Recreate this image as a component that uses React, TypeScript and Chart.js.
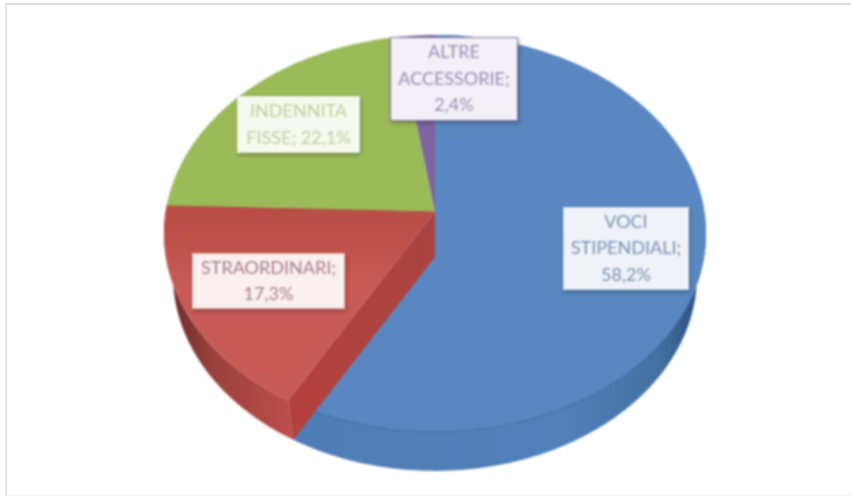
import React, { useEffect, useRef } from "react";
import { Chart, registerables } from "chart.js";

Chart.register(...registerables);

const categories = ["VOCI STIPENDIALI", "STRAORDINARI", "INDENNITA FISSE", "ALTRE ACCESSORIE"];
const values = [58.2, 17.3, 22.1, 2.4];
const labelLines = [
  ["VOCI", "STIPENDIALI;", "58,2%"],
  ["STRAORDINARI;", "17,3%"],
  ["INDENNITA", "FISSE; 22,1%"],
  ["ALTRE", "ACCESSORIE;", "2,4%"],
];
const faceColors = ["#5a87c1", "#c5554f", "#9bbb59", "#8064a2"];
const textColors = ["#7c8fb0", "#a97c8e", "#c2cf9e", "#9a8eb8"];
const boxFills = ["#eff3f9", "#faf0ef", "#f6f9ef", "#f3f0f7"];
const boxStrokes = ["#d5e0ee", "#e8bcb8", "#e6eed2", "#8a78a8"];
const boxes = [
  { x: 563, y: 207, w: 126, h: 83 },
  { x: 192, y: 253, w: 153, h: 56 },
  { x: 237, y: 96, w: 123, h: 57 },
  { x: 390, y: 37, w: 128, h: 84 },
];

// perspective of the disc: image of the unit circle
const CX = 435;
const S = 269.4;
const A = 173.2;
const B = 212;
const C = -0.1083;
const DEPTH_SHIFT = 41.5;
const ELL_CY = 233.5;

function top(r: number, a: number) {
  const u = r * Math.cos(a);
  const v = r * Math.sin(a);
  const d = 1 + C * v;
  return { x: CX + (S * u) / d, y: (A * v + B) / d };
}
function low(r: number, a: number) {
  const p = top(r, a);
  return { x: CX + (p.x - CX) * 0.967, y: ELL_CY + (p.y - ELL_CY) * 0.987 + DEPTH_SHIFT };
}
function rim(fn: typeof top, a0: number, a1: number) {
  const n = Math.max(2, Math.ceil(Math.abs(a1 - a0) * 60));
  const pts = [];
  for (let i = 0; i <= n; i++) pts.push(fn(1, a0 + ((a1 - a0) * i) / n));
  return pts;
}
function poly(ctx: CanvasRenderingContext2D, pts: { x: number; y: number }[]) {
  ctx.beginPath();
  pts.forEach((p, i) => (i ? ctx.lineTo(p.x, p.y) : ctx.moveTo(p.x, p.y)));
  ctx.closePath();
}

const pie3d = {
  id: "pie3d",
  beforeDatasetsDraw(chart: any) {
    const ctx: CanvasRenderingContext2D = chart.ctx;
    const arcs = chart.getDatasetMeta(0).data.map((el: any) =>
      el.getProps(["startAngle", "endAngle"], true)
    );
    ctx.save();

    // outer walls
    const wallBlue = ctx.createLinearGradient(290, 0, 710, 0);
    wallBlue.addColorStop(0, "#4f7cb5");
    wallBlue.addColorStop(0.65, "#5180ba");
    wallBlue.addColorStop(0.88, "#44709f");
    wallBlue.addColorStop(1, "#25466f");
    const wallRed = ctx.createLinearGradient(170, 0, 295, 0);
    wallRed.addColorStop(0, "#6e2c2a");
    wallRed.addColorStop(0.35, "#9a403c");
    wallRed.addColorStop(1, "#bf4f4a");
    const walls = [wallBlue, wallRed];
    [0, 1].forEach((i) => {
      const { startAngle, endAngle } = arcs[i];
      poly(ctx, [...rim(top, startAngle, endAngle), ...rim(low, endAngle, startAngle)]);
      ctx.fillStyle = walls[i];
      ctx.fill();
    });

    // top faces
    const redFace = ctx.createLinearGradient(0, 208, 0, 320);
    redFace.addColorStop(0, "#b94e46");
    redFace.addColorStop(0.3, "#bf514b");
    redFace.addColorStop(0.7, "#c95b56");
    redFace.addColorStop(1, "#c95b56");
    const fills = [faceColors[0], redFace, faceColors[2], faceColors[3]];
    [2, 3, 0, 1].forEach((i) => {
      const { startAngle, endAngle } = arcs[i];
      poly(ctx, [{ x: CX, y: B }, ...rim(top, startAngle, endAngle)]);
      ctx.fillStyle = fills[i];
      ctx.fill();
    });

    // rim line on the blue slice
    const bl = rim(top, 0.42, arcs[0].endAngle);
    ctx.beginPath();
    bl.forEach((p, i) => (i ? ctx.lineTo(p.x, p.y) : ctx.moveTo(p.x, p.y)));
    ctx.strokeStyle = "#4370a8";
    ctx.lineWidth = 1.2;
    ctx.stroke();

    // cut wall of the red slice
    const cut = arcs[0].endAngle;
    const t = top(1, cut);
    const l = low(1, cut);
    const grad = ctx.createLinearGradient(290, 0, 435, 0);
    grad.addColorStop(0, "#b5403c");
    grad.addColorStop(1, "#a94440");
    poly(ctx, [{ x: CX, y: B }, t, l, { x: CX, y: B + 45 }]);
    ctx.fillStyle = grad;
    ctx.fill();

    // green/red edge
    const e = top(1, arcs[1].endAngle);
    ctx.beginPath();
    ctx.moveTo(CX, B);
    ctx.lineTo(e.x, e.y);
    ctx.strokeStyle = "#a8503c";
    ctx.lineWidth = 1;
    ctx.stroke();

    // data labels
    ctx.font = "18px Lato";
    ctx.textAlign = "center";
    ctx.textBaseline = "middle";
    labelLines.forEach((lines, i) => {
      const b = boxes[i];
      ctx.save();
      ctx.shadowColor = "rgba(0,0,0,0.3)";
      ctx.shadowBlur = 4;
      ctx.shadowOffsetX = 1;
      ctx.shadowOffsetY = 2;
      ctx.fillStyle = boxFills[i];
      ctx.fillRect(b.x, b.y, b.w, b.h);
      ctx.restore();
      ctx.strokeStyle = boxStrokes[i];
      ctx.lineWidth = 1;
      ctx.strokeRect(b.x + 0.5, b.y + 0.5, b.w - 1, b.h - 1);
      ctx.fillStyle = textColors[i];
      const lh = 26.5;
      const y0 = b.y + b.h / 2 - ((lines.length - 1) * lh) / 2;
      lines.forEach((s, k) => ctx.fillText(s, b.x + b.w / 2, y0 + k * lh));
    });

    ctx.restore();
    return false;
  },
};

export default function App() {
  const ref = useRef<HTMLCanvasElement>(null);
  useEffect(() => {
    const chart = new Chart(ref.current!, {
      type: "pie",
      data: {
        labels: categories,
        datasets: [{ data: values, backgroundColor: faceColors, borderWidth: 0 }],
      },
      options: {
        responsive: false,
        animation: false,
        plugins: { legend: { display: false }, tooltip: { enabled: false } },
      },
      plugins: [pie3d],
    } as any);
    return () => chart.destroy();
  }, []);
  return (
    <div style={{ position: "absolute", left: 0, top: 0, width: 851, height: 499, background: "#fff", overflow: "hidden" }}>
      <canvas ref={ref} width={851} height={499} style={{ display: "block", filter: "blur(0.8px)" }} />
      <div
        style={{
          position: "absolute",
          left: 5,
          top: 3,
          width: 846,
          height: 493,
          boxSizing: "border-box",
          borderTop: "2px solid #dcdcdc",
          borderLeft: "2px solid #e4e4e4",
          borderBottom: "1px solid #f3f3f3",
        }}
      />
    </div>
  );
}
